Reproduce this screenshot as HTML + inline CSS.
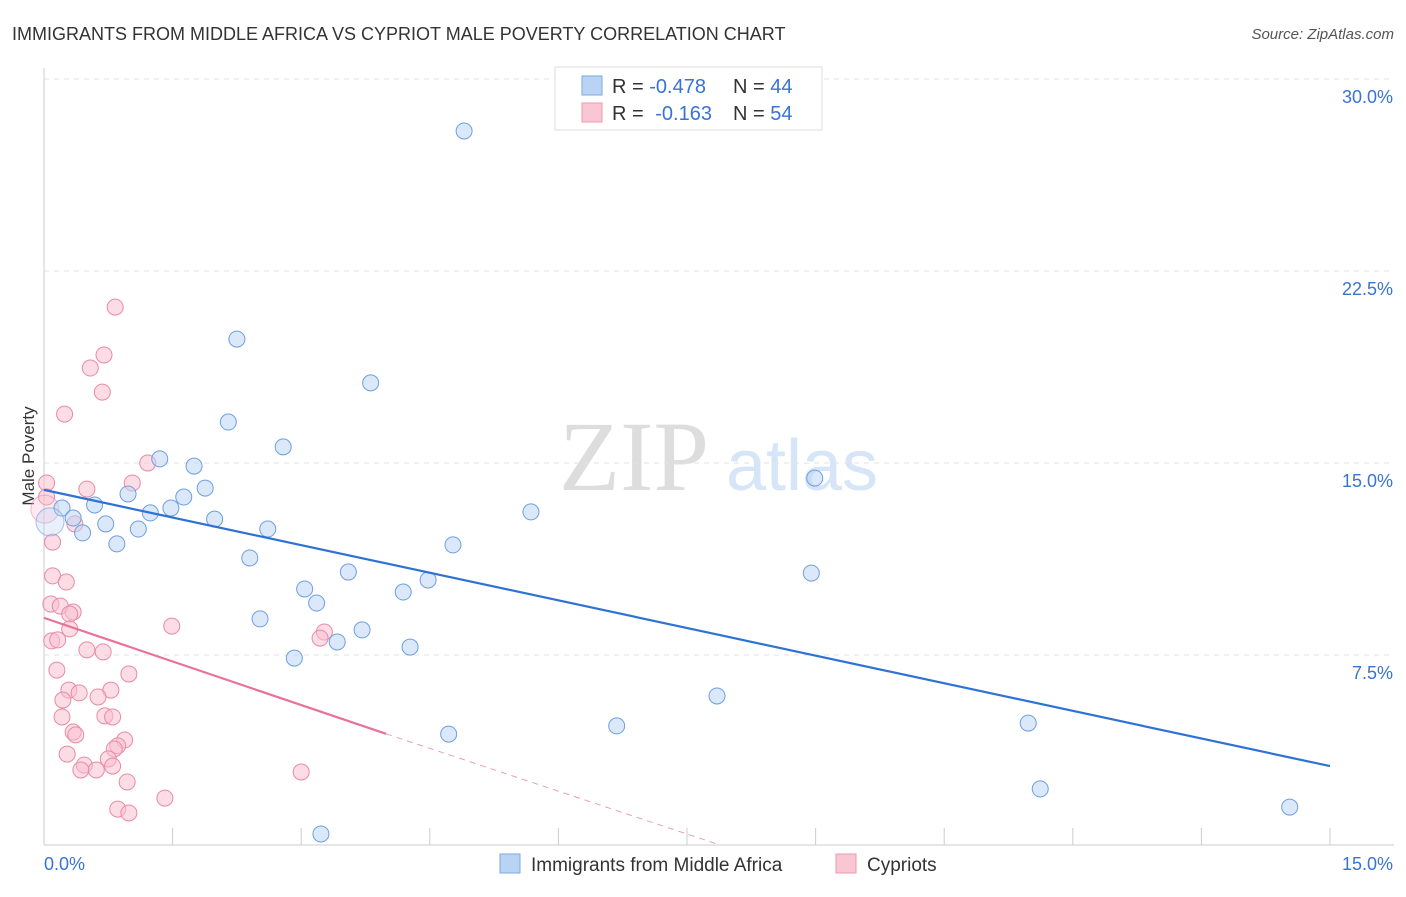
<!DOCTYPE html>
<html><head><meta charset="utf-8"><style>
body{margin:0;background:#fff;font-family:"Liberation Sans",sans-serif;}
</style></head><body>
<svg id="chart" width="1406" height="892" xmlns="http://www.w3.org/2000/svg" font-family="Liberation Sans, sans-serif">
<text x="12" y="40" font-size="18" fill="#333">IMMIGRANTS FROM MIDDLE AFRICA VS CYPRIOT MALE POVERTY CORRELATION CHART</text>
<text x="1394" y="39" font-size="15" fill="#555" font-style="italic" text-anchor="end">Source: ZipAtlas.com</text>
<text x="34" y="456" font-size="17" fill="#333" text-anchor="middle" transform="rotate(-90 34 456)">Male Poverty</text>
<g><text x="634" y="490" font-size="100" fill="#ddd" style="font-family:'Liberation Serif',serif" text-anchor="middle">ZIP</text><text x="802" y="490" font-size="72" fill="#d6e5f7" text-anchor="middle">atlas</text></g>
<g id="grid"></g><g id="axes"></g><g id="marks"></g>
<g>
<rect x="555" y="67" width="267" height="63" fill="#fff" stroke="#ddd"/>
<rect x="582" y="76" width="20" height="19" fill="#b9d3f5" stroke="#7aa8e6"/>
<rect x="582" y="103" width="20" height="19" fill="#f9c6d4" stroke="#eb98b1"/>
<text x="612" y="93" font-size="20" fill="#333">R = <tspan fill="#3873d6">-0.478</tspan><tspan x="733">N = </tspan><tspan fill="#3873d6">44</tspan></text>
<text x="612" y="120" font-size="20" fill="#333">R = <tspan fill="#3873d6" dx="6">-0.163</tspan><tspan x="733">N = </tspan><tspan fill="#3873d6">54</tspan></text>
</g>
<g>
<rect x="500" y="854" width="20" height="19" fill="#b9d3f5" stroke="#7aa8e6"/>
<text x="531" y="871" font-size="19" fill="#333">Immigrants from Middle Africa</text>
<rect x="836" y="854" width="20" height="19" fill="#f9c6d4" stroke="#eb98b1"/>
<text x="867" y="871" font-size="19" fill="#333">Cypriots</text>
</g>
</svg>
<script>
const xTicks=[0,1.5,3,4.5,6,7.5,9,10.5,12,13.5,15];
const yTicks=[7.5,15,22.5,30];
const yTickLabels=["7.5%","15.0%","22.5%","30.0%"];
const xEndLabels=["0.0%","15.0%"];
const blueX=[4.90,2.25,3.81,2.15,2.79,1.35,1.75,8.99,1.88,0.98,1.63,0.59,0.21,1.48,1.24,5.68,1.99,0.72,2.61,1.10,0.45,0.34,0.85,4.77,2.40,3.55,8.95,4.48,3.04,4.19,3.18,2.52,3.71,3.42,4.27,2.92,7.85,6.68,11.48,4.72,11.62,14.53,3.23,0.07];
const blueY=[27.97,19.84,18.13,16.60,15.63,15.16,14.88,14.41,14.02,13.79,13.67,13.36,13.24,13.24,13.05,13.09,12.81,12.62,12.42,12.42,12.27,12.85,11.84,11.80,11.29,10.74,10.70,10.43,10.08,9.96,9.53,8.91,8.48,8.01,7.81,7.38,5.90,4.73,4.84,4.41,2.27,1.56,0.51,12.7];
const pinkX=[0.83,0.70,0.54,0.68,0.24,1.21,1.03,0.03,0.50,0.03,0.36,0.10,0.10,0.26,0.08,0.19,0.34,0.30,0.30,1.49,3.27,3.22,0.09,0.16,0.50,0.69,0.15,0.99,0.29,0.78,0.41,0.63,0.22,0.21,0.71,0.80,0.34,0.37,0.94,0.27,0.86,0.82,0.75,0.47,0.80,0.43,0.61,3.00,0.97,1.41,0.86,0.99,0.01];
const pinkY=[21.09,19.22,18.71,17.77,16.91,15.0,14.22,14.22,13.98,13.67,12.62,11.91,10.59,10.35,9.49,9.41,9.18,9.10,8.52,8.63,8.40,8.16,8.05,8.09,7.70,7.62,6.91,6.76,6.13,6.13,6.02,5.86,5.74,5.08,5.12,5.08,4.49,4.38,4.18,3.63,3.95,3.83,3.44,3.20,3.16,3.01,3.01,2.93,2.54,1.91,1.48,1.33,13.2];
const blueTrend=[13.95,3.16];
const pinkTrend=[8.95,-1.135];
const pinkSolidEnd=3.99;
const NS="http://www.w3.org/2000/svg";
const X0=44,X1=1330,YB=847,PX=25.6;
const sx=v=>X0+(v/15)*(X1-X0);
const sy=v=>YB-v*PX;
function mk(t,a,p){const e=document.createElementNS(NS,t);for(const k in a)e.setAttribute(k,a[k]);p.appendChild(e);return e;}
const grid=document.getElementById('grid'),axes=document.getElementById('axes'),marks=document.getElementById('marks');
yTicks.forEach((v,i)=>{
 const l=mk('line',{x1:X0,x2:1394,y1:sy(v),y2:sy(v),stroke:'#e2e2e2','stroke-dasharray':'5,5'},grid);
 
 
 const t=mk('text',{x:1393,y:sy(v)+24,'font-size':18,fill:'#3873d6','text-anchor':'end'},axes);
 t.textContent=yTickLabels[i];
 
 
});
const ax=mk('line',{x1:X0,x2:X0,y1:68,y2:845,stroke:'#ccc'},axes);


const bx=mk('line',{x1:X0,x2:1394,y1:845,y2:845,stroke:'#ccc'},axes);


xTicks.forEach(v=>{
 const t=mk('line',{x1:sx(v),x2:sx(v),y1:828,y2:845,stroke:'#ccc'},axes);
 
 
});
const xl0=mk('text',{x:44,y:870,'font-size':18,fill:'#3873d6'},axes);xl0.textContent=xEndLabels[0];


const xl1=mk('text',{x:1393,y:870,'font-size':18,fill:'#3873d6','text-anchor':'end'},axes);xl1.textContent=xEndLabels[1];


function pts(xs,ys,fill,stroke,name){
 xs.forEach((x,i)=>{
  const big=i===xs.length-1;
  const c=mk('circle',{cx:sx(x),cy:sy(ys[i]),r:big?14:8,fill:fill,'fill-opacity':big?0.35:0.55,stroke:stroke,'stroke-width':1,'stroke-opacity':big?0.6:1},marks);
  
  
 });
}
pts(pinkX,pinkY,'#f9c0d0','#e88aa8','point-cypriots');
pts(blueX,blueY,'#bcd5f5','#6d9fe2','point-middle-africa');
const bl=mk('line',{x1:sx(0),y1:sy(blueTrend[0]),x2:sx(15),y2:sy(blueTrend[1]),stroke:'#2f72d6','stroke-width':2.2},marks);


const pf=x=>pinkTrend[0]+pinkTrend[1]*x;
const pl=mk('line',{x1:sx(0),y1:sy(pf(0)),x2:sx(pinkSolidEnd),y2:sy(pf(pinkSolidEnd)),stroke:'#e8729a','stroke-width':2.2},marks);


const xEnd=Math.min(15,-pinkTrend[0]/pinkTrend[1]);
const pd=mk('line',{x1:sx(pinkSolidEnd),y1:sy(pf(pinkSolidEnd)),x2:sx(xEnd),y2:Math.min(845,sy(pf(xEnd))),stroke:'#e8a0b8','stroke-width':1,'stroke-dasharray':'6,5'},marks);


</script>
</body></html>
